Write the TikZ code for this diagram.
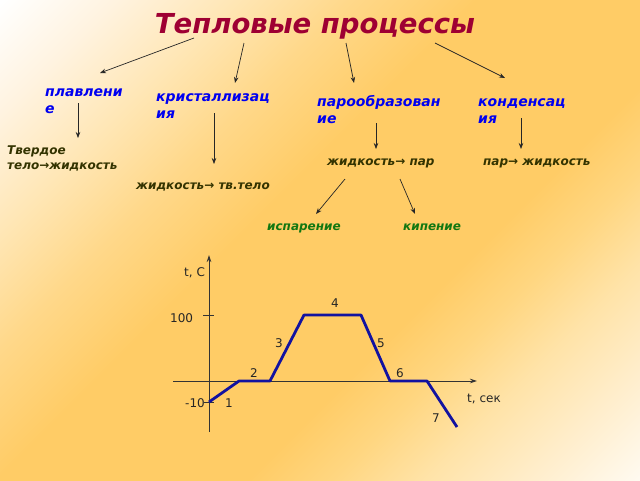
\documentclass[tikz,border=0pt]{standalone}
\usepackage{fontspec}
\setmainfont{DejaVu Sans}
\usetikzlibrary{arrows.meta}

\definecolor{titlered}{HTML}{9E0033}
\definecolor{procblue}{HTML}{0000F0}
\definecolor{resolive}{HTML}{333300}
\definecolor{kindgreen}{HTML}{117711}
\definecolor{curveblue}{HTML}{1212A0}
\definecolor{bgorange}{HTML}{FFCC66}
\definecolor{bgcream}{HTML}{FFF3E0}
\definecolor{bgsand}{HTML}{FFE6B4}
\definecolor{bgpeach}{HTML}{FFD88A}
\definecolor{bgamber}{HTML}{FFD680}
\definecolor{bglight}{HTML}{FFE3A8}
\definecolor{bgpale}{HTML}{FFEFD0}
\definecolor{bgwhite}{HTML}{FFFAF0}

\pgfdeclarehorizontalshading{bgshade}{100bp}{color(0bp)=(white); color(14.6bp)=(white); color(21.7bp)=(bgcream); color(29.5bp)=(bgsand); color(36.6bp)=(bgpeach); color(44.7bp)=(bgorange); color(60.6bp)=(bgorange); color(65.9bp)=(bgamber); color(71.9bp)=(bglight); color(79.4bp)=(bgpale); color(85.4bp)=(bgwhite); color(100bp)=(bgwhite)}

\tikzset{
	heading/.style={font=\fontsize{27.5}{30}\selectfont\bfseries\itshape, text=titlered, anchor=base, inner sep=0pt},
	process/.style={font=\fontsize{14}{17}\selectfont\bfseries\itshape, text=procblue, anchor=base west, align=left, inner sep=0pt},
	result/.style={font=\fontsize{12}{15}\selectfont\bfseries\itshape, text=resolive, anchor=base west, align=left, inner sep=0pt},
	kind/.style={font=\fontsize{12}{15}\selectfont\bfseries\itshape, text=kindgreen, anchor=base west, inner sep=0pt},
	arr/.style={-{Stealth[length=6pt,width=4.5pt]}, black!85, line width=0.7pt},
	axis/.style={-{Stealth[length=7pt,width=4.5pt]}, black!80, line width=0.8pt},
	tick/.style={black!80, line width=0.8pt},
	graphlbl/.style={font=\fontsize{12}{14}\selectfont, text=black!85, inner sep=0pt},
	curve/.style={curveblue, line width=2.8pt, line join=round}
}

\begin{document}
\begin{tikzpicture}[x=1pt,y=-1pt]
\useasboundingbox (0,0) rectangle (640,480);
\shade[shading=bgshade, shading angle=-45] (0,0) rectangle (640,480);

\node[heading] (title) at (315,33) {Тепловые процессы};

\node[process] (melt) at (45,113) {плавлени\\е};
\node[process] (cryst) at (156,118) {кристаллизац\\ия};
\node[process] (vapor) at (317,123) {парообразован\\ие};
\node[process] (cond) at (478,123) {конденсац\\ия};

\node[result] (meltres) at (7,169) {Твердое\\тело→жидкость};
\node[result] (crystres) at (136,189) {жидкость→ тв.тело};
\node[result] (vaporres) at (327,165) {жидкость→ пар};
\node[result] (condres) at (483,165) {пар→ жидкость};

\node[kind] (evap) at (267,230) {испарение};
\node[kind] (boil) at (403,230) {кипение};

\coordinate (title-a) at (194,38);
\coordinate (title-b) at (244,43);
\coordinate (title-c) at (346,43);
\coordinate (title-d) at (435,43);
\coordinate (melt-in) at (100,73);
\coordinate (cryst-in) at (235,83);
\coordinate (vapor-in) at (354,83);
\coordinate (cond-in) at (505,78);
\coordinate (melt-out) at (78,103);
\coordinate (meltres-in) at (78,138);
\coordinate (cryst-out) at (214,113);
\coordinate (crystres-in) at (214,164);
\coordinate (vapor-out) at (376,123);
\coordinate (vaporres-in) at (376,149);
\coordinate (cond-out) at (521,118);
\coordinate (condres-in) at (521,149);
\coordinate (vaporres-a) at (345,179);
\coordinate (evap-in) at (316,214);
\coordinate (vaporres-b) at (400,179);
\coordinate (boil-in) at (415,214);

\draw[arr] (title-a) -- (melt-in);
\draw[arr] (title-b) -- (cryst-in);
\draw[arr] (title-c) -- (vapor-in);
\draw[arr] (title-d) -- (cond-in);
\draw[arr] (melt-out) -- (meltres-in);
\draw[arr] (cryst-out) -- (crystres-in);
\draw[arr] (vapor-out) -- (vaporres-in);
\draw[arr] (cond-out) -- (condres-in);
\draw[arr] (vaporres-a) -- (evap-in);
\draw[arr] (vaporres-b) -- (boil-in);

\coordinate (origin) at (209,381);
\draw[axis] (173,381) -- (477,381);
\draw[axis] (209,432) -- (209,255);
\draw[tick] (203,315) -- (214,315);
\draw[tick] (204,402) -- (214,402);
\node[graphlbl, anchor=base west] (ylbl) at (184,276) {t, C};
\node[graphlbl, anchor=base west] (xlbl) at (467,402) {t, сек};
\node[graphlbl, anchor=base west] (hundred) at (170,322) {100};
\node[graphlbl, anchor=base west] (minusten) at (185,407) {-10};

\draw[curve] (209,402) -- (239,381) -- (270,381) -- (304,315) -- (361,315) -- (390,381) -- (427,381) -- (457,427);

\node[graphlbl] (seg1) at (229,403) {1};
\node[graphlbl] (seg2) at (254,373) {2};
\node[graphlbl] (seg3) at (279,343) {3};
\node[graphlbl] (seg4) at (335,303) {4};
\node[graphlbl] (seg5) at (381,343) {5};
\node[graphlbl] (seg6) at (400,373) {6};
\node[graphlbl] (seg7) at (436,418) {7};
\end{tikzpicture}
\end{document}
